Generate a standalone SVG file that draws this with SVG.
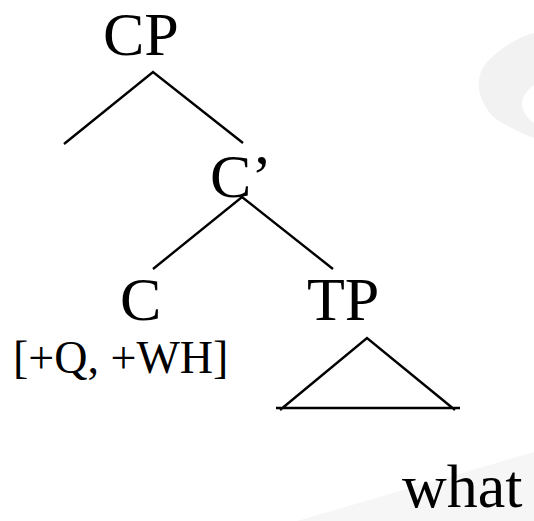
<svg xmlns="http://www.w3.org/2000/svg" width="534" height="521" viewBox="0 0 534 521">
<style>
.lbl{font-family:"Liberation Serif","Times New Roman",serif;font-size:62px;fill:#000}
.feat{font-family:"Liberation Serif","Times New Roman",serif;font-size:46px;fill:#000}
.edge{stroke:#000;stroke-width:2.4;fill:none;stroke-linecap:butt}
</style>
<rect width="534" height="521" fill="#fff"/>
<g id="watermark">
<path d="M534,33 C520,36 500,48 487,62 C478,72 477,86 481,97 C485,108 492,117 499,121 C512,129 524,134 534,138 L534,123 C528,119 523,112 522,105 C521,98 527,90 534,85 Z" fill="#f2f2f2"/>
<path d="M534,452 L297,521 L534,521 Z" fill="#f6f6f6"/>
</g>
<g id="connectors">
<polyline class="edge" points="64,144 153,72 243,143"/>
<polyline class="edge" points="153,269 242,197 333,269"/>
<path class="edge" d="M280,410 L367,338 L455,410 M276,408 L460,408"/>
</g>
<g id="CP"><text class="lbl" x="103" y="55">CP</text></g>
<g id="Cbar"><text class="lbl" x="210" y="197">C’</text></g>
<g id="C"><text class="lbl" x="120" y="320">C</text></g>
<g id="features"><text class="feat" x="13" y="373">[+Q, +WH]</text></g>
<g id="TP"><text class="lbl" x="307" y="320">TP</text></g>
<g id="what"><text class="lbl" x="402" y="507">what</text></g>
</svg>
